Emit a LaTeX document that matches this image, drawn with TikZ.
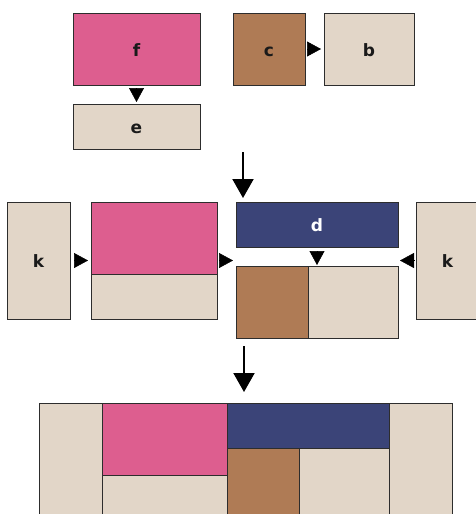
\documentclass[tikz,border=0pt]{standalone}
\usepackage{fontspec}
\setmainfont{DejaVu Sans}
\usetikzlibrary{arrows.meta}
\definecolor{pinkc}{HTML}{DD5E8F}
\definecolor{brownc}{HTML}{AF7B55}
\definecolor{beigec}{HTML}{E2D6C8}
\definecolor{navyc}{HTML}{3B4478}
\definecolor{edgec}{HTML}{2D2D2D}
\definecolor{textc}{HTML}{1A1A1A}
\tikzset{
  box/.style={draw=edgec, line width=1pt, inner sep=0pt, outer sep=0pt, anchor=north west,
    font=\bfseries\fontsize{17}{17}\selectfont, text=textc, text height=14pt, text depth=0pt},
  tri/.style={-{Triangle[length=14pt,width=15pt]}, line width=0.5pt, black},
  bigarrow/.style={-{Triangle[length=19pt,width=21pt]}, line width=2pt, black},
}
\begin{document}
\begin{tikzpicture}[x=1pt,y=-1pt]
\useasboundingbox (0,0) rectangle (476,514);
\clip (0,0) rectangle (476,514);
% stage 1
\node[box,fill=pinkc,minimum width=127pt,minimum height=72pt] (f) at (73,13) {f};
\node[box,fill=beigec,minimum width=127pt,minimum height=45pt] (e) at (73,104) {e};
\node[box,fill=brownc,minimum width=72pt,minimum height=72pt] (c) at (233,13) {c};
\node[box,fill=beigec,minimum width=90pt,minimum height=72pt] (b) at (324,13) {b};
\draw[tri, shorten <=3pt, shorten >=2pt] (f.south) -- (f.south |- e.north);
\draw[tri, shorten <=2pt, shorten >=3pt] (c.east) -- (c.east -| b.west);
% arrow 1
\coordinate (a1s) at (243,152);
\coordinate (a1e) at (243,198);
\draw[bigarrow] (a1s) -- (a1e);
% stage 2
\node[box,fill=beigec,minimum width=63pt,minimum height=117pt] (kL) at (7,202) {k};
\node[box,fill=pinkc,minimum width=126pt,minimum height=72pt] (mp) at (91,202) {};
\node[box,fill=beigec,minimum width=126pt,minimum height=45pt] (mb) at (91,274) {};
\node[box,fill=navyc,minimum width=162pt,minimum height=45pt,text=white] (md) at (236,202) {d};
\node[box,fill=brownc,minimum width=72pt,minimum height=72pt] (mc) at (236,266) {};
\node[box,fill=beigec,minimum width=90pt,minimum height=72pt] (mbb) at (308,266) {};
\node[box,fill=beigec,minimum width=63pt,minimum height=117pt] (kR) at (416,202) {k};
\draw[tri, shorten <=4pt, shorten >=3pt] (kL.east) -- (kL.east -| mp.west);
\draw[tri, shorten <=2pt, shorten >=3pt] (kL.east -| mp.east) -- (kL.east -| md.west);
\draw[tri, shorten <=4pt, shorten >=1pt] (md.south) -- (md.south |- mc.north);
\draw[tri, shorten <=2pt, shorten >=2pt] (kR.west) -- (kR.west -| md.east);
% arrow 2
\coordinate (a2s) at (244,346);
\coordinate (a2e) at (244,392);
\draw[bigarrow] (a2s) -- (a2e);
% stage 3
\node[box,fill=beigec,minimum width=63pt,minimum height=117pt] (l1) at (39,403) {};
\node[box,fill=pinkc,minimum width=125pt,minimum height=72pt] (l2) at (102,403) {};
\node[box,fill=beigec,minimum width=125pt,minimum height=45pt] (l3) at (102,475) {};
\node[box,fill=navyc,minimum width=162pt,minimum height=45pt] (l4) at (227,403) {};
\node[box,fill=brownc,minimum width=72pt,minimum height=72pt] (l5) at (227,448) {};
\node[box,fill=beigec,minimum width=90pt,minimum height=72pt] (l6) at (299,448) {};
\node[box,fill=beigec,minimum width=63pt,minimum height=117pt] (l7) at (389,403) {};
\end{tikzpicture}
\end{document}
